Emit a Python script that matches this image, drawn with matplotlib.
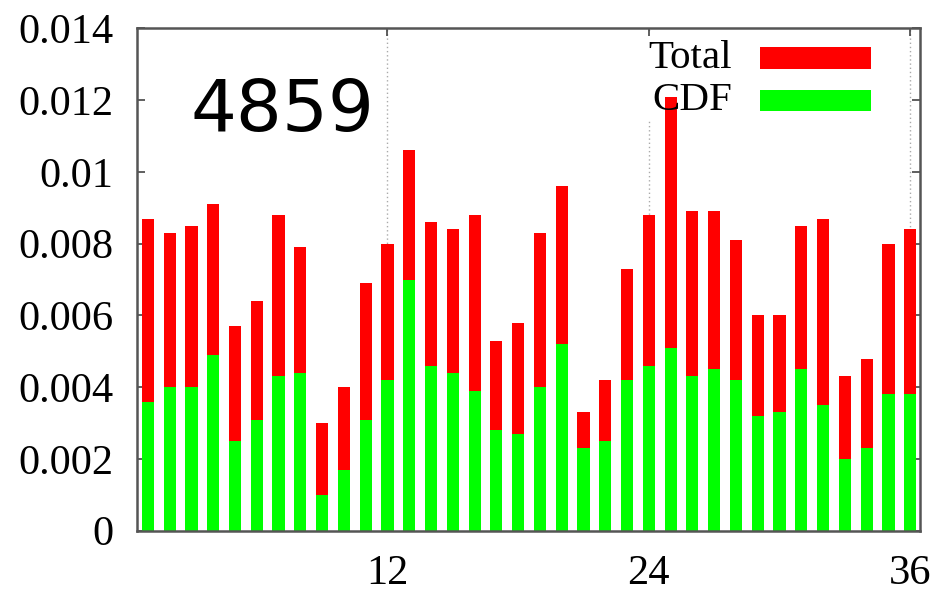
import matplotlib
matplotlib.use("Agg")
import matplotlib.pyplot as plt
from matplotlib.patches import Rectangle

# Per-slot values (slots 1..36)
slots = list(range(1, 37))
total = [0.0087, 0.0083, 0.0085, 0.0091, 0.0057, 0.0064, 0.0088, 0.0079, 0.0030, 0.0040,
         0.0069, 0.0080, 0.0106, 0.0086, 0.0084, 0.0088, 0.0053, 0.0058, 0.0083, 0.0096,
         0.0033, 0.0042, 0.0073, 0.0088, 0.0121, 0.0089, 0.0089, 0.0081, 0.0060, 0.0060,
         0.0085, 0.0087, 0.0043, 0.0048, 0.0080, 0.0084]
cdf = [0.0036, 0.0040, 0.0040, 0.0049, 0.0025, 0.0031, 0.0043, 0.0044, 0.0010, 0.0017,
       0.0031, 0.0042, 0.0070, 0.0046, 0.0044, 0.0039, 0.0028, 0.0027, 0.0040, 0.0052,
       0.0023, 0.0025, 0.0042, 0.0046, 0.0051, 0.0043, 0.0045, 0.0042, 0.0032, 0.0033,
       0.0045, 0.0035, 0.0020, 0.0023, 0.0038, 0.0038]
series_labels = ["Total", "CDF"]
x_ticks = [12, 24, 36]
y_ticks = [0, 0.002, 0.004, 0.006, 0.008, 0.01, 0.012, 0.014]
y_tick_labels = ["0", "0.002", "0.004", "0.006", "0.008", "0.01", "0.012", "0.014"]
annotation = "4859"

RED = "#ff0000"
GREEN = "#00ff00"
serif = ["Liberation Serif", "DejaVu Serif"]

fig = plt.figure(figsize=(9.34, 5.93), dpi=100)
ax = fig.add_axes([0.1467, 0.105, 0.8383, 0.847])

bw = 0.56
ax.bar(slots, total, width=bw, color=RED, zorder=2, linewidth=0)
ax.bar(slots, cdf, width=bw, color=GREEN, zorder=3, linewidth=0)

ax.set_xlim(0.5, 36.45)
ax.set_ylim(0, 0.014)

# dotted vertical grid at the labelled slots
for xv in x_ticks:
    ax.axvline(xv, color="#aaaaaa", linestyle=(0, (1, 2)), linewidth=1.0, zorder=1)

ax.set_xticks(x_ticks)
ax.set_xticklabels([str(v) for v in x_ticks], fontfamily=serif, fontsize=30.5)
ax.set_yticks(y_ticks)
ax.set_yticklabels(y_tick_labels, fontfamily=serif, fontsize=30.5)
ax.tick_params(axis="both", direction="in", length=6, width=1.2, color="#444444",
               top=True, right=True)
ax.tick_params(axis="x", pad=17)
ax.tick_params(axis="y", pad=17)
for s in ax.spines.values():
    s.set_color("#555555")
    s.set_linewidth(1.8)
    s.set_zorder(5)

# legend block: white backing sits over the grid but under the bars
ax.add_patch(Rectangle((0.645, 0.82), 0.30, 0.175, transform=ax.transAxes,
                       facecolor="white", edgecolor="none", zorder=1.5))
ax.add_patch(Rectangle((0.7957, 0.919), 0.1417, 0.044, transform=ax.transAxes,
                       facecolor=RED, edgecolor="none", zorder=6))
ax.add_patch(Rectangle((0.7957, 0.835), 0.1417, 0.042, transform=ax.transAxes,
                       facecolor=GREEN, edgecolor="none", zorder=6))
ax.text(0.760, 0.941, series_labels[0], transform=ax.transAxes, ha="right", va="center",
        fontfamily=serif, fontsize=29.5, zorder=6)
ax.text(0.760, 0.857, series_labels[1], transform=ax.transAxes, ha="right", va="center",
        fontfamily=serif, fontsize=29.5, zorder=6)

ax.text(0.068, 0.835, annotation, transform=ax.transAxes, ha="left", va="center",
        fontfamily=["DejaVu Sans"], fontsize=52, zorder=6)

fig.savefig("out.png", dpi=100, facecolor="white")
